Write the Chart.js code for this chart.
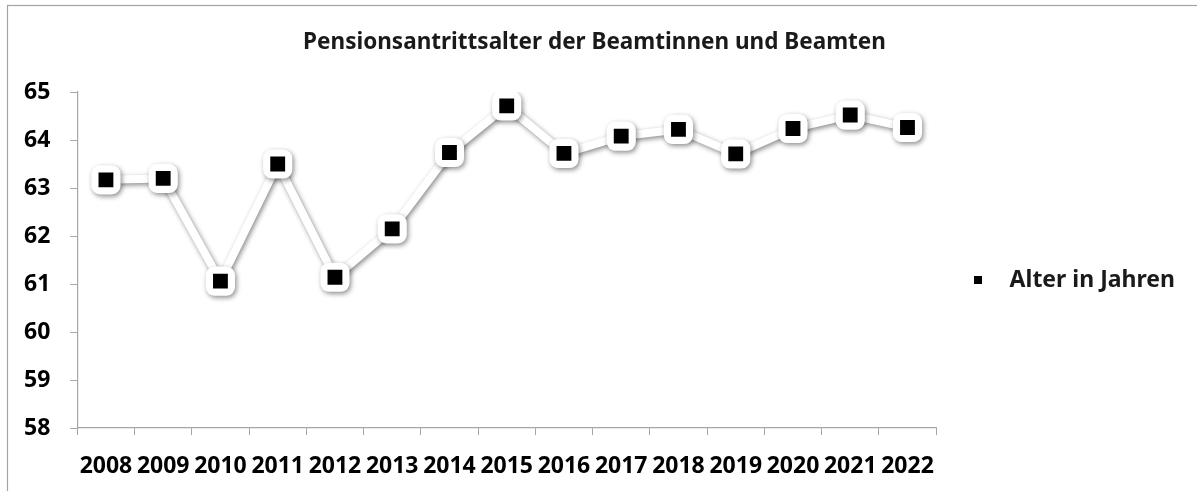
<!DOCTYPE html>
<html>
<head>
<meta charset="utf-8">
<script src="https://cdn.jsdelivr.net/npm/chart.js@4/dist/chart.umd.min.js"></script>
<style>
  html, body { margin: 0; padding: 0; background: #ffffff; }
  #wrap { width: 1197px; height: 491px; }
</style>
</head>
<body>
<div id="wrap"><canvas id="c" width="1197" height="491"></canvas></div>
<script>
const chartTitle = "Pensionsantrittsalter der Beamtinnen und Beamten";
const seriesName = "Alter in Jahren";
const years = ["2008","2009","2010","2011","2012","2013","2014","2015","2016","2017","2018","2019","2020","2021","2022"];
const ages = [63.17, 63.20, 61.06, 63.50, 61.14, 62.15, 63.74, 64.71, 63.72, 64.08, 64.22, 63.71, 64.24, 64.52, 64.26];
const yMin = 58;
const yMax = 65;
const yStep = 1;

const legendSquare = document.createElement('canvas');
legendSquare.width = 8; legendSquare.height = 8;
(function(){ const g = legendSquare.getContext('2d'); g.fillStyle = '#000'; g.fillRect(0,0,8,8); })();

const framePlugin = {
  id: 'frame',
  beforeDraw(chart) {
    const ctx = chart.ctx;
    ctx.save();
    ctx.fillStyle = '#ffffff';
    ctx.fillRect(0, 0, chart.width, chart.height);
    ctx.strokeStyle = '#a3a3a3';
    ctx.lineWidth = 1.2;
    ctx.strokeRect(7.5, 5.5, chart.width + 20, chart.height + 20);
    ctx.restore();
  },
  beforeDatasetDraw(chart, args) {
    const ctx = chart.ctx;
    ctx.save();
    if (args.index === 0) {
      ctx.shadowColor = 'rgba(0,0,0,0.45)';
      ctx.shadowBlur = 5;
      ctx.shadowOffsetX = 1.5;
      ctx.shadowOffsetY = 2;
    }
  },
  afterDatasetDraw(chart) {
    chart.ctx.restore();
  }
};

const tickFont = { family: "'Noto Sans', sans-serif", size: 23, weight: 'bold', lineHeight: 1.0 };
const axisGray = '#a6a6a6';

new Chart(document.getElementById('c'), {
  type: 'line',
  data: {
    labels: years,
    datasets: [
      {
        label: 'halo',
        data: ages,
        order: 2,
        borderColor: '#ffffff',
        borderWidth: 8,
        backgroundColor: '#ffffff',
        pointStyle: 'rectRounded',
        pointRadius: 17,
        pointBorderWidth: 0,
        pointBackgroundColor: '#ffffff',
        tension: 0,
        fill: false
      },
      {
        label: seriesName,
        data: ages,
        order: 1,
        showLine: false,
        pointStyle: 'rect',
        pointRadius: 10.5,
        pointBorderWidth: 0,
        pointBackgroundColor: '#000000',
        backgroundColor: '#000000',
        borderColor: '#000000'
      }
    ]
  },
  options: {
    responsive: false,
    animation: false,
    devicePixelRatio: 1,
    events: [],
    layout: { padding: { left: 4, right: 12, top: 5, bottom: -6 } },
    plugins: {
      title: {
        display: true,
        text: chartTitle,
        color: '#1a1a1a',
        font: { family: "'Noto Sans', sans-serif", size: 22.5, weight: 'bold', lineHeight: 1.2 },
        padding: { top: 24.5, bottom: 35.5 }
      },
      legend: {
        position: 'right',
        title: { display: true, text: ' ', font: { size: 10, lineHeight: 1.2 }, padding: { top: 0, bottom: 46 } },
        labels: {
          filter: (item) => item.datasetIndex === 1,
          usePointStyle: true,
          pointStyle: legendSquare,
          pointStyleWidth: 40,
          boxHeight: 8,
          padding: 22,
          color: '#1a1a1a',
          font: { family: "'Noto Sans', sans-serif", size: 23, weight: 'bold' }
        }
      },
      tooltip: { enabled: false }
    },
    scales: {
      x: {
        offset: true,
        grid: { display: true, offset: true, drawOnChartArea: false, drawTicks: true, tickLength: 7, color: axisGray },
        border: { display: true, color: axisGray, width: 1.2 },
        ticks: { color: '#000000', font: tickFont, padding: 19.5, maxRotation: 0, autoSkip: false }
      },
      y: {
        min: yMin,
        max: yMax,
        grid: { display: true, drawOnChartArea: false, drawTicks: true, tickLength: 7, color: axisGray },
        border: { display: true, color: axisGray, width: 1.2 },
        ticks: { stepSize: yStep, color: '#000000', font: tickFont, padding: 20 }
      }
    }
  },
  plugins: [framePlugin]
});
</script>
</body>
</html>
